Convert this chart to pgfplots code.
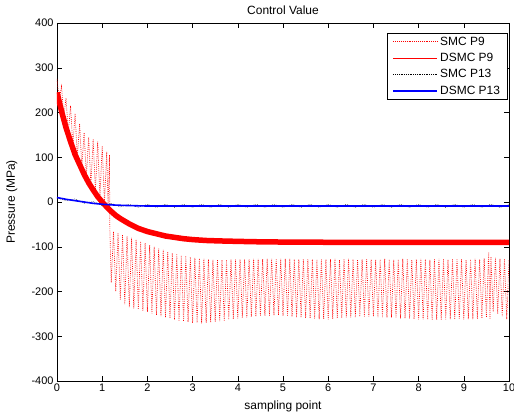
\documentclass[border=0pt]{standalone}
\usepackage{pgfplots}
\pgfplotsset{compat=1.18}
\usepackage{fontspec}
\setmainfont{Liberation Sans}
\newcommand{\ff}{\fontsize{12}{14}\selectfont}
\newcommand{\tf}{\fontsize{11}{13}\selectfont}
\pgfplotsset{
  legend image code/.code={\draw[#1] (0bp,0bp) -- (44bp,0bp);},
  every axis title/.style={at={(0.5,1.036)}, anchor=center},
}
\pgfplotstableread{
x y
0 245
0.1 203
0.2 166
0.3 135
0.4 106
0.5 84
0.6 62
0.7 43
0.8 27
0.9 12
1.0 0
1.1 -11
1.2 -21
1.3 -30
1.4 -37
1.5 -43
1.6 -49
1.8 -59
2.0 -66
2.2 -71
2.4 -76
2.6 -79
2.8 -82
3.0 -84
3.3 -86
3.6 -87
4.0 -88
4.5 -89
5 -89.5
6 -90
7 -90
8 -90
9 -90
10 -90
}\dsmcnine
\begin{document}
\begin{tikzpicture}
\begin{axis}[
  scale only axis,
  width=452bp, height=358bp,
  xmin=0, xmax=10, ymin=-400, ymax=400,
  xtick={0,1,...,10}, ytick={-400,-300,...,400},
  tick align=inside,
  major tick length=5bp,
  tick style={black, line width=0.5pt},
  axis line style={line width=0.5pt},
  /pgf/number format/assume math mode=true,
  tick label style={font=\tf},
  xticklabel style={yshift=1bp},
  label style={font=\ff},
  title style={font=\ff},
  title={Control Value},
  xlabel={sampling point},
  ylabel={Pressure (MPa)},
  xlabel style={at={(axis description cs:0.5,-0.07)}, anchor=center},
  ylabel style={at={(axis description cs:-0.1,0.5)}, anchor=center},
  legend style={at={(0.996,0.973)}, anchor=north east, font=\ff,
    inner xsep=5bp, inner ysep=2bp, row sep=2.5bp, cells={anchor=west}},
]
% SMC P9 (red dotted, strongly oscillating)
\addplot[red, line width=0.7pt, dash pattern=on 0.7pt off 1.2pt] coordinates {
(0,275) (0.05,228) (0.1,258) (0.15,190) (0.2,232) (0.25,155) (0.3,215) (0.35,125)
(0.4,198) (0.45,100) (0.5,175) (0.55,78) (0.6,155) (0.65,57) (0.7,145) (0.75,40)
(0.8,140) (0.85,24) (0.9,135) (0.95,10) (1.0,125) (1.05,-1) (1.1,112) (1.13,-8)
(1.16,105) (1.17,-65)
(1.2,-180) (1.25,-66) (1.3,-200) (1.35,-70) (1.4,-218) (1.45,-73) (1.5,-228) (1.55,-77)
(1.6,-235) (1.65,-80) (1.7,-238) (1.75,-84) (1.8,-240) (1.85,-88) (1.9,-243) (1.95,-92)
(2.0,-246) (2.05,-96) (2.1,-249) (2.15,-100) (2.2,-252) (2.25,-104) (2.3,-255) (2.35,-107)
(2.4,-258) (2.45,-111) (2.5,-260) (2.55,-114) (2.6,-263) (2.65,-117) (2.7,-265) (2.75,-119)
(2.8,-267) (2.85,-121) (2.9,-268) (2.95,-123) (3.0,-270) (3.05,-125) (3.1,-270) (3.15,-126)
(3.2,-271) (3.25,-127) (3.3,-270) (3.35,-128) (3.4,-269) (3.45,-129) (3.5,-268) (3.55,-129)
(3.6,-266) (3.65,-130) (3.7,-265) (3.75,-130) (3.8,-263) (3.85,-129) (3.9,-262) (3.95,-129)
(4.0,-260) (4.05,-128) (4.1,-259) (4.15,-128) (4.2,-258) (4.25,-128) (4.3,-257) (4.35,-127)
(4.4,-256) (4.45,-127) (4.5,-255) (4.55,-127) (4.6,-254) (4.65,-127) (4.7,-254) (4.75,-127)
(4.8,-253) (4.85,-127) (4.9,-253) (4.95,-127) (5.0,-254) (5.05,-127) (5.1,-255) (5.15,-127)
(5.2,-256) (5.25,-128) (5.3,-257) (5.35,-128) (5.4,-258) (5.45,-128) (5.5,-259) (5.55,-128)
(5.6,-260) (5.65,-128) (5.7,-261) (5.75,-128) (5.8,-262) (5.85,-128) (5.9,-262) (5.95,-128)
(6.0,-262) (6.05,-128) (6.1,-261) (6.15,-127) (6.2,-260) (6.25,-129) (6.3,-259) (6.35,-128)
(6.4,-258) (6.45,-127) (6.5,-258) (6.55,-128) (6.6,-257) (6.65,-129) (6.7,-256) (6.75,-128)
(6.8,-256) (6.85,-127) (6.9,-256) (6.95,-128) (7.0,-256) (7.05,-129) (7.1,-257) (7.15,-128)
(7.2,-257) (7.25,-127) (7.3,-258) (7.35,-128) (7.4,-258) (7.45,-129) (7.5,-259) (7.55,-128)
(7.6,-260) (7.65,-127) (7.7,-260) (7.75,-128) (7.8,-261) (7.85,-129) (7.9,-261) (7.95,-128)
(8.0,-262) (8.05,-127) (8.1,-262) (8.15,-128) (8.2,-263) (8.25,-129) (8.3,-263) (8.35,-128)
(8.4,-263) (8.45,-127) (8.5,-263) (8.55,-128) (8.6,-263) (8.65,-129) (8.7,-262) (8.75,-128)
(8.8,-262) (8.85,-127) (8.9,-262) (8.95,-128) (9.0,-262) (9.05,-129) (9.1,-262) (9.15,-128)
(9.2,-262) (9.25,-127) (9.3,-261) (9.35,-128) (9.4,-260) (9.45,-126) (9.5,-258) (9.55,-112)
(9.58,-262) (9.6,-122) (9.65,-245) (9.7,-125) (9.75,-250) (9.8,-127) (9.85,-255) (9.9,-128)
(9.95,-262) (10,-130)
};
\addlegendentry{SMC P9}
% DSMC P9: thin copy carrying the legend entry, thick copy drawn over it
\addplot[red, line width=0.8pt] table[x=x, y=y] {\dsmcnine};
\addlegendentry{DSMC P9}
\addplot[forget plot, red, line width=5.5bp] table[x=x, y=y] {\dsmcnine};
% SMC P13 (black dotted)
\addplot[black, line width=0.45pt, dash pattern=on 0.6pt off 1.2pt] coordinates {
(0,9) (0.2,3) (0.4,7) (0.6,-3) (0.8,1) (1.0,-8) (1.2,-3) (1.4,-11) (1.6,-5) (1.8,-12)
(2.0,-5) (2.2,-12) (2.4,-5) (2.6,-12) (2.8,-5) (3.0,-12) (3.2,-5) (3.4,-12) (3.6,-5)
(3.8,-12) (4.0,-5) (4.2,-12) (4.4,-5) (4.6,-12) (4.8,-5) (5.0,-12) (5.2,-5) (5.4,-12)
(5.6,-5) (5.8,-12) (6.0,-5) (6.2,-12) (6.4,-5) (6.6,-12) (6.8,-5) (7.0,-12) (7.2,-5)
(7.4,-12) (7.6,-5) (7.8,-12) (8.0,-5) (8.2,-12) (8.4,-5) (8.6,-12) (8.8,-5) (9.0,-12)
(9.2,-5) (9.4,-12) (9.6,-5) (9.8,-12) (10,-6)
};
\addlegendentry{SMC P13}
% DSMC P13 (blue)
\addplot[blue, line width=1.6bp] coordinates {
(0,10) (0.2,6) (0.4,3) (0.6,0) (0.8,-3) (1.0,-5) (1.3,-7) (1.6,-8) (2.0,-9)
(3,-9) (4,-9) (5,-9) (6,-9) (7,-9) (8,-9) (9,-9) (10,-9)
};
\addlegendentry{DSMC P13}
\end{axis}
\pgfresetboundingbox
\path (-57bp,-35bp) rectangle (457bp,381bp);
\end{tikzpicture}
\end{document}
